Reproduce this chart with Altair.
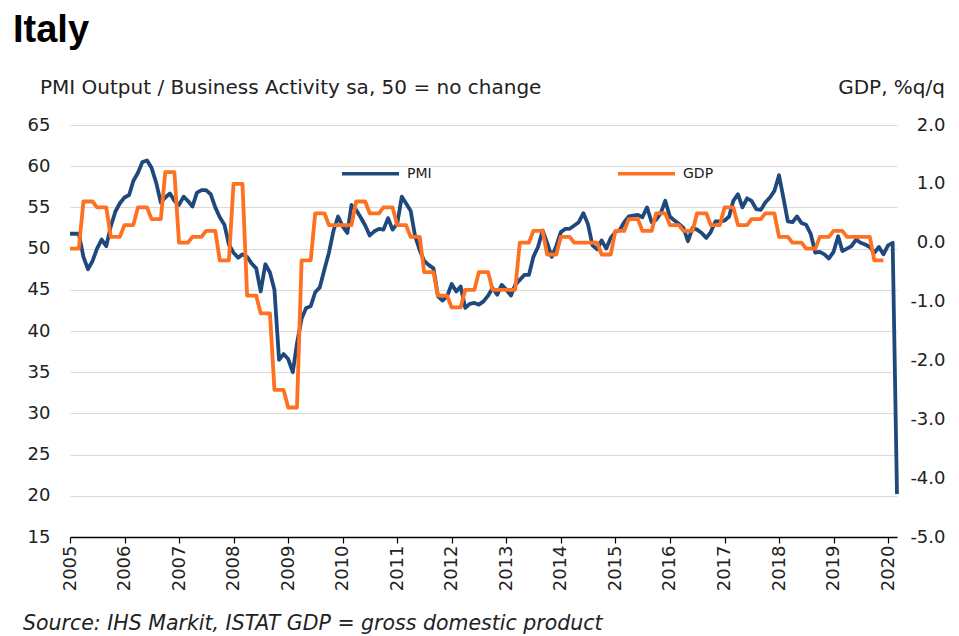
import altair as alt
import pandas as pd

# ---------------- data ----------------
pmi_values = [
    # 2005
    51.8, 51.8, 51.8, 49.0, 47.5, 48.5, 50.0, 51.1, 50.3, 52.7, 54.5, 55.5,
    # 2006
    56.2, 56.5, 58.2, 59.2, 60.5, 60.7, 59.8, 58.0, 55.6, 56.2, 56.7, 55.8,
    # 2007
    55.3, 56.3, 55.8, 55.1, 56.8, 57.1, 57.1, 56.6, 55.0, 53.8, 52.9, 50.5,
    # 2008
    49.5, 48.9, 49.3, 49.0, 48.2, 47.6, 44.8, 48.1, 47.1, 45.0, 36.5, 37.2,
    # 2009
    36.6, 35.0, 38.5, 41.5, 42.8, 43.0, 44.7, 45.3, 47.5, 49.5, 52.2, 53.9,
    # 2010
    52.7, 51.9, 55.3, 54.7, 53.8, 52.8, 51.6, 52.1, 52.4, 52.3, 53.7, 52.3,
    # 2011
    53.0, 56.3, 55.5, 54.6, 51.5, 49.8, 48.5, 48.0, 47.6, 44.2, 43.7, 44.2,
    # 2012
    45.7, 44.8, 45.4, 42.8, 43.3, 43.4, 43.2, 43.6, 44.3, 45.2, 44.4, 45.6,
    # 2013
    45.0, 44.3, 45.6, 46.2, 46.8, 46.8, 49.0, 50.2, 52.2, 50.7, 49.0, 50.3,
    # 2014
    52.0, 52.4, 52.4, 52.8, 53.2, 54.3, 53.0, 50.4, 49.9, 51.0, 50.0, 51.3,
    # 2015
    52.0, 52.3, 53.2, 53.9, 54.0, 54.1, 53.8, 55.0, 53.2, 53.5, 54.3, 55.8,
    # 2016
    53.9, 53.4, 53.0, 52.5, 50.9, 52.5, 52.3, 51.9, 51.3, 52.0, 53.3, 53.3,
    # 2017
    53.4, 53.9, 55.8, 56.6, 55.0, 56.1, 55.8, 54.8, 54.7, 55.6, 56.2, 57.0,
    # 2018
    58.9, 56.0, 53.3, 53.2, 53.9, 53.1, 52.9, 51.8, 49.5, 49.6, 49.3, 48.8,
    # 2019
    49.6, 51.5, 49.7, 50.0, 50.3, 51.1, 50.7, 50.5, 50.2, 49.5, 50.2, 49.3,
    # 2020
    50.4, 50.7, 20.2,
]

gdp_quarterly = [
    -0.1, 0.7, 0.6, 0.1,    # 2005
    0.3, 0.6, 0.4, 1.2,     # 2006
    0.0, 0.1, 0.2, -0.3,    # 2007
    1.0, -0.9, -1.2, -2.5,  # 2008
    -2.8, -0.3, 0.5, 0.3,   # 2009
    0.3, 0.7, 0.5, 0.6,     # 2010
    0.3, 0.1, -0.5, -0.9,   # 2011
    -1.1, -0.8, -0.5, -0.8, # 2012
    -0.8, 0.0, 0.2, -0.2,   # 2013
    0.1, 0.0, 0.0, -0.2,    # 2014
    0.2, 0.4, 0.2, 0.5,     # 2015
    0.3, 0.2, 0.5, 0.3,     # 2016
    0.6, 0.3, 0.4, 0.5,     # 2017
    0.1, 0.0, -0.1, 0.1,    # 2018
    0.2, 0.1, 0.1, -0.3,    # 2019
]

series_names = ["PMI", "GDP"]
series_colors = ["#1F497D", "#FF7020"]
year_ticks = list(range(2005, 2021))
left_ticks = list(range(15, 70, 5))
right_ticks = [-5, -4, -3, -2, -1, 0, 1, 2]

# ---------------- tables ----------------
months = pd.date_range("2005-01-01", periods=len(pmi_values), freq="MS")
pmi_df = pd.DataFrame({"date": months.strftime("%Y-%m-%d"), "value": pmi_values, "series": "PMI"})

q_starts = pd.date_range("2005-01-01", periods=len(gdp_quarterly), freq="QS")
gdp_rows = []
for qs, v in zip(q_starts, gdp_quarterly):
    for k in range(3):  # quarterly value shown across its three months
        gdp_rows.append({"date": (qs + pd.DateOffset(months=k)).strftime("%Y-%m-%d"), "value": v, "series": "GDP"})
gdp_df = pd.DataFrame(gdp_rows)

FONT = "DejaVu Sans"
TXT = "#222222"

x_enc = alt.X(
    "date:T",
    scale=alt.Scale(domain=[alt.DateTime(year=2005, month=1, date=1),
                            alt.DateTime(year=2020, month=3, date=1)]),
    axis=alt.Axis(
        values=[alt.DateTime(year=y, month=1, date=1) for y in year_ticks],
        format="%Y", title=None, labelAngle=270, labelFont=FONT, labelFontSize=18,
        labelColor=TXT, labelPadding=2, tickSize=6, tickColor="#000000", tickWidth=1.2,
        domainColor="#000000", domainWidth=1.5, grid=False, labelOverlap=False,
    ),
)

color_enc = alt.Color(
    "series:N",
    scale=alt.Scale(domain=series_names, range=series_colors),
    legend=alt.Legend(
        orient="none", legendX=270, legendY=18, direction="horizontal", title=None,
        symbolType="stroke", symbolSize=3249, symbolStrokeWidth=3.5,
        labelFont=FONT, labelFontSize=14, labelColor=TXT, labelOffset=6,
        columnPadding=179, padding=0,
    ),
)

pmi_line = alt.Chart(pmi_df).mark_line(strokeWidth=3.8, strokeJoin="round").encode(
    x=x_enc,
    y=alt.Y("value:Q",
            scale=alt.Scale(domain=[15, 65], nice=False, zero=False),
            axis=alt.Axis(values=left_ticks, orient="left", title=None, grid=True,
                          gridColor="#D9D9D9", gridWidth=1, domain=False, ticks=False,
                          labelPadding=20, labelFont=FONT, labelFontSize=18, labelColor=TXT)),
    color=color_enc,
)

gdp_line = alt.Chart(gdp_df).mark_line(strokeWidth=3.8, strokeJoin="round").encode(
    x=x_enc,
    y=alt.Y("value:Q",
            scale=alt.Scale(domain=[-5, 2], nice=False, zero=False),
            axis=alt.Axis(values=right_ticks, orient="right", title=None, grid=False,
                          domain=False, ticks=False, labelAlign="right", labelPadding=48,
                          labelFont=FONT, labelFontSize=18, labelColor=TXT,
                          labelExpr="(datum.value < 0 ? '-' : '') + format(abs(datum.value), '.1f')")),
    color=color_enc,
)

one = pd.DataFrame({"a": [0]})
title = alt.Chart(one).mark_text(text="Italy", font="Liberation Sans", fontSize=38, fontWeight="bold",
                                 align="left", baseline="alphabetic", color="#000000").encode(
    x=alt.value(-57), y=alt.value(-83))
sub_left = alt.Chart(one).mark_text(text="PMI Output  / Business Activity sa, 50 = no change", font=FONT,
                                    fontSize=20, align="left", baseline="alphabetic", color=TXT).encode(
    x=alt.value(-30), y=alt.value(-31))
sub_right = alt.Chart(one).mark_text(text="GDP, %q/q", font=FONT, fontSize=20, align="right",
                                     baseline="alphabetic", color=TXT).encode(
    x=alt.value(875), y=alt.value(-31))
source = alt.Chart(one).mark_text(text="Source: IHS Markit, ISTAT GDP = gross domestic product", font=FONT,
                                  fontSize=20.5, fontStyle="italic", align="left", baseline="alphabetic",
                                  color=TXT).encode(
    x=alt.value(-47), y=alt.value(505))

chart = alt.layer(pmi_line, gdp_line, title, sub_left, sub_right, source).resolve_scale(
    y="independent"
).properties(
    width=827, height=412,
    padding={"left": 62, "top": 117, "right": 54, "bottom": 98},
    autosize="none",
).configure_view(strokeWidth=0)

chart.save("out.html", embed_options={"renderer": "svg", "actions": False})
